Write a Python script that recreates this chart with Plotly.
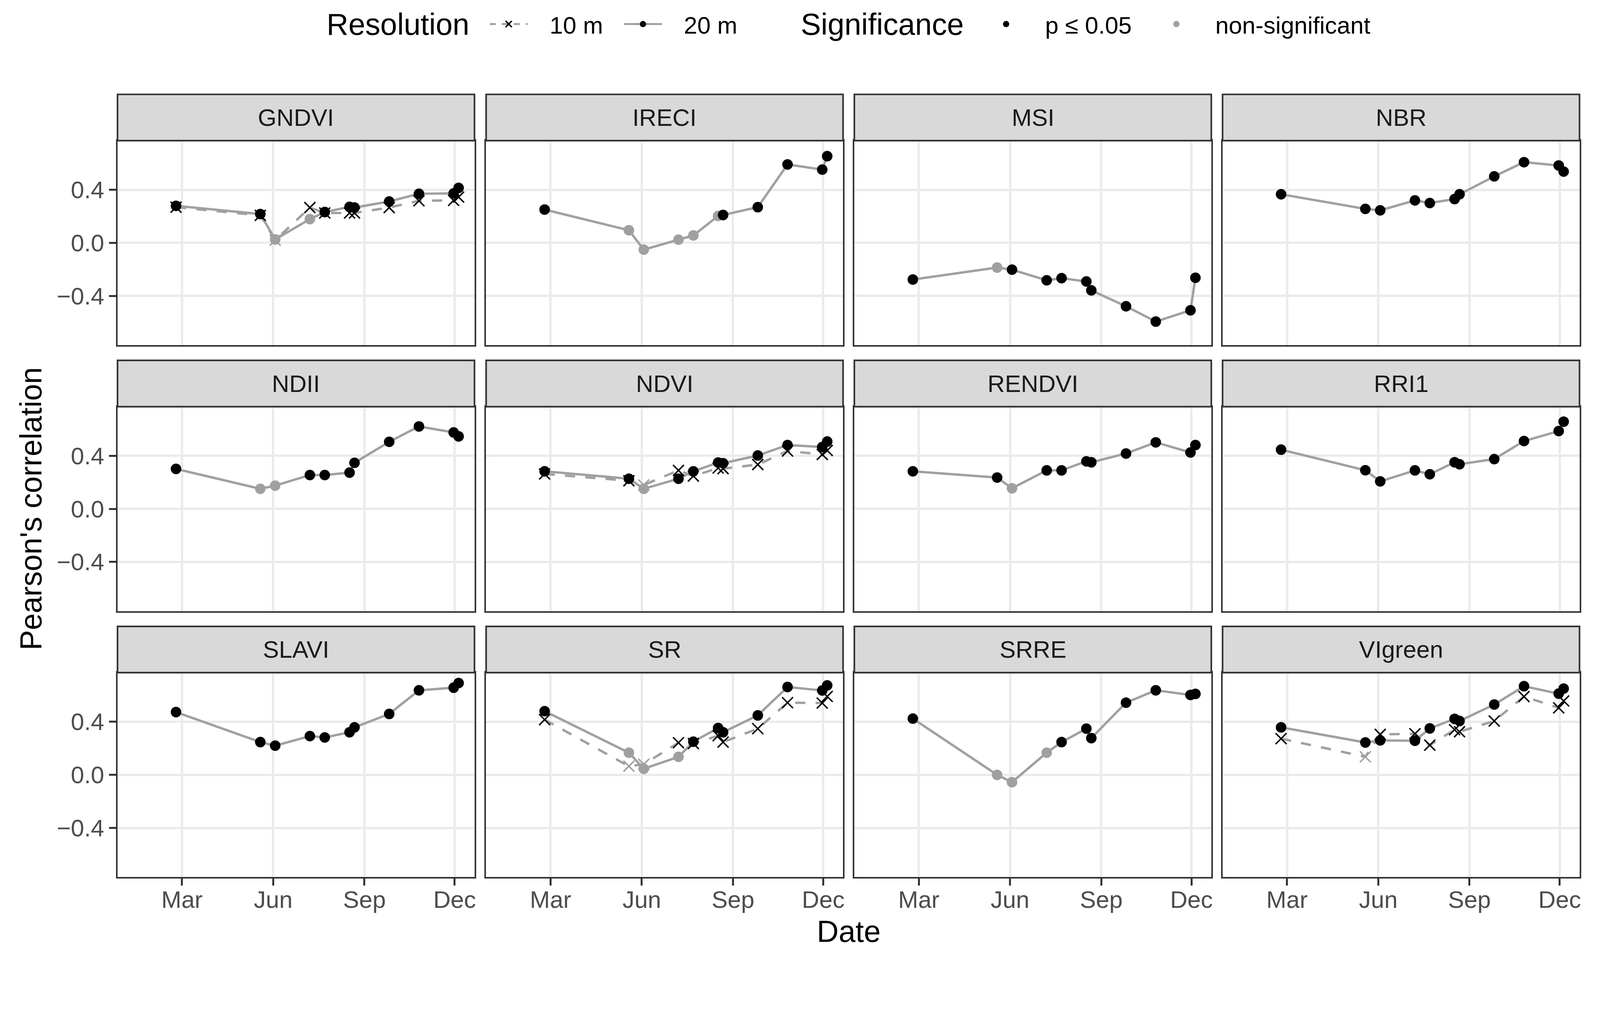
import plotly.graph_objects as go

# ---------------- data ----------------
dates = ["2018-02-23", "2018-05-19", "2018-06-03", "2018-07-08", "2018-07-23",
         "2018-08-17", "2018-08-22", "2018-09-26", "2018-10-26", "2018-11-30", "2018-12-05"]

indices = ["GNDVI", "IRECI", "MSI", "NBR", "NDII", "NDVI",
           "RENDVI", "RRI1", "SLAVI", "SR", "SRRE", "VIgreen"]

# 20 m correlations and significance (1 = p <= 0.05)
gndvi_20 = [0.279, 0.217, 0.026, 0.179, 0.232, 0.271, 0.266, 0.312, 0.370, 0.373, 0.414]
gndvi_20_sig = [1, 1, 0, 0, 1, 1, 1, 1, 1, 1, 1]
ireci_20 = [0.251, 0.095, -0.051, 0.024, 0.056, 0.203, 0.210, 0.269, 0.591, 0.552, 0.653]
ireci_20_sig = [1, 0, 0, 0, 0, 0, 1, 1, 1, 1, 1]
msi_20 = [-0.276, -0.186, -0.202, -0.282, -0.266, -0.291, -0.358, -0.478, -0.593, -0.508, -0.263]
msi_20_sig = [1, 0, 1, 1, 1, 1, 1, 1, 1, 1, 1]
nbr_20 = [0.366, 0.256, 0.245, 0.320, 0.300, 0.330, 0.366, 0.501, 0.608, 0.583, 0.537]
nbr_20_sig = [1, 1, 1, 1, 1, 1, 1, 1, 1, 1, 1]
ndii_20 = [0.301, 0.151, 0.175, 0.255, 0.255, 0.273, 0.347, 0.505, 0.621, 0.576, 0.546]
ndii_20_sig = [1, 0, 0, 1, 1, 1, 1, 1, 1, 1, 1]
ndvi_20 = [0.283, 0.227, 0.151, 0.227, 0.283, 0.349, 0.344, 0.402, 0.481, 0.466, 0.507]
ndvi_20_sig = [1, 1, 0, 1, 1, 1, 1, 1, 1, 1, 1]
rendvi_20 = [0.283, 0.236, 0.155, 0.290, 0.290, 0.358, 0.351, 0.417, 0.501, 0.425, 0.481]
rendvi_20_sig = [1, 1, 0, 1, 1, 1, 1, 1, 1, 1, 1]
rri1_20 = [0.446, 0.291, 0.207, 0.290, 0.261, 0.351, 0.336, 0.375, 0.511, 0.586, 0.657]
rri1_20_sig = [1, 1, 1, 1, 1, 1, 1, 1, 1, 1, 1]
slavi_20 = [0.473, 0.247, 0.220, 0.292, 0.282, 0.321, 0.358, 0.459, 0.637, 0.657, 0.692]
slavi_20_sig = [1, 1, 1, 1, 1, 1, 1, 1, 1, 1, 1]
sr_20 = [0.480, 0.167, 0.046, 0.136, 0.250, 0.353, 0.321, 0.448, 0.662, 0.636, 0.674]
sr_20_sig = [1, 0, 0, 0, 1, 1, 1, 1, 1, 1, 1]
srre_20 = [0.424, 0.000, -0.055, 0.167, 0.247, 0.348, 0.277, 0.544, 0.637, 0.602, 0.610]
srre_20_sig = [1, 0, 0, 0, 1, 1, 1, 1, 1, 1, 1]
vigreen_20 = [0.358, 0.244, 0.260, 0.257, 0.350, 0.422, 0.406, 0.530, 0.668, 0.612, 0.650]
vigreen_20_sig = [1, 1, 1, 1, 1, 1, 1, 1, 1, 1, 1]

# 10 m correlations (only for indices available at 10 m)
gndvi_10 = [0.269, 0.207, 0.020, 0.266, 0.225, 0.225, 0.225, 0.266, 0.317, 0.320, 0.345]
gndvi_10_sig = [1, 1, 0, 1, 1, 1, 1, 1, 1, 1, 1]
ndvi_10 = [0.263, 0.212, 0.180, 0.290, 0.247, 0.308, 0.303, 0.334, 0.436, 0.410, 0.440]
ndvi_10_sig = [1, 1, 0, 1, 1, 1, 1, 1, 1, 1, 1]
sr_10 = [0.416, 0.065, 0.080, 0.242, 0.236, 0.295, 0.247, 0.348, 0.544, 0.541, 0.591]
sr_10_sig = [1, 0, 0, 1, 1, 1, 1, 1, 1, 1, 1]
vigreen_10 = [0.273, 0.136, 0.305, 0.310, 0.224, 0.340, 0.325, 0.406, 0.590, 0.505, 0.557]
vigreen_10_sig = [1, 0, 1, 1, 1, 1, 1, 1, 1, 1, 1]

month_ticks = ["2018-03-01", "2018-06-01", "2018-09-01", "2018-12-01"]
month_labels = ["Mar", "Jun", "Sep", "Dec"]
y_ticks = [-0.4, 0.0, 0.4]
y_labels = ["\u22120.4", "0.0", "0.4"]

res20 = {"GNDVI": (gndvi_20, gndvi_20_sig), "IRECI": (ireci_20, ireci_20_sig),
         "MSI": (msi_20, msi_20_sig), "NBR": (nbr_20, nbr_20_sig),
         "NDII": (ndii_20, ndii_20_sig), "NDVI": (ndvi_20, ndvi_20_sig),
         "RENDVI": (rendvi_20, rendvi_20_sig), "RRI1": (rri1_20, rri1_20_sig),
         "SLAVI": (slavi_20, slavi_20_sig), "SR": (sr_20, sr_20_sig),
         "SRRE": (srre_20, srre_20_sig), "VIgreen": (vigreen_20, vigreen_20_sig)}
res10 = {"GNDVI": (gndvi_10, gndvi_10_sig), "NDVI": (ndvi_10, ndvi_10_sig),
         "SR": (sr_10, sr_10_sig), "VIgreen": (vigreen_10, vigreen_10_sig)}

# ---------------- geometry (target-screenshot pixels -> css px) ----------------
TW, TH = 4393, 2633
S = TW / 4096.0          # screenshot px per css px
VW, VH = 4096, round(TH / S)
MARGIN = 8               # default body margin (css px)
FW, FH = VW - 2 * MARGIN, VH - 2 * MARGIN


def px(v):
    """size given in screenshot px -> css px"""
    return v / S


def xd(t):
    return (t / S - MARGIN) / FW


def yd(t):
    return 1 - (t / S - MARGIN) / FH


FONT = "Liberation Sans, Arial, sans-serif"
BLACK = "#000000"
GREY = "#A0A0A0"
LINE_GREY = "#A0A0A0"
col_left = [323, 1336, 2348, 3360]
panel_w = 981
row_top = [386, 1116, 1846]
panel_h = 561
strip_h = 127
TXT = px(66)
TITLE = px(83)


def sigcol(s):
    return [BLACK if v == 1 else GREY for v in s]


fig = go.Figure()
layout = dict(
    width=FW, height=FH,
    margin=dict(l=0, r=0, t=0, b=0, pad=0),
    paper_bgcolor="white", plot_bgcolor="white",
    font=dict(family=FONT, size=TXT, color="#000000"),
    showlegend=True,
)
shapes = []
annotations = []

for i, name in enumerate(indices):
    r, c = divmod(i, 4)
    xa = "x" if i == 0 else f"x{i + 1}"
    ya = "y" if i == 0 else f"y{i + 1}"
    xkey = "xaxis" if i == 0 else f"xaxis{i + 1}"
    ykey = "yaxis" if i == 0 else f"yaxis{i + 1}"
    left = col_left[c]
    top = row_top[r]
    common = dict(
        ticklen=px(19), tickwidth=px(5), tickcolor="#333333",
        tickfont=dict(size=TXT, color="#4D4D4D", family=FONT),
        showgrid=True, gridcolor="#EBEBEB", gridwidth=px(6.5),
        showline=True, mirror=True, linecolor="#333333", linewidth=px(4.5),
        zeroline=False, fixedrange=True,
    )
    layout[xkey] = dict(
        domain=[xd(left), xd(left + panel_w)], anchor=ya, type="date",
        range=["2017-12-26", "2018-12-21"],
        tickmode="array", tickvals=month_ticks, ticktext=month_labels,
        showticklabels=(r == 2), ticks="outside" if r == 2 else "",
        ticklabelstandoff=-17,
        **common,
    )
    layout[ykey] = dict(
        domain=[yd(top + panel_h), yd(top)], anchor=xa,
        range=[-0.77, 0.77],
        tickmode="array", tickvals=y_ticks, ticktext=y_labels,
        showticklabels=(c == 0), ticks="outside" if c == 0 else "",
        **common,
    )
    # facet strip
    shapes.append(dict(type="rect", xref="paper", yref="paper",
                       x0=xd(left), x1=xd(left + panel_w),
                       y0=yd(top), y1=yd(top - strip_h),
                       fillcolor="#D9D9D9", line=dict(color="#333333", width=px(4.5)),
                       layer="above"))
    annotations.append(dict(text=name, xref="paper", yref="paper",
                            x=xd(left + panel_w / 2), y=yd(top - strip_h / 2),
                            xanchor="center", yanchor="middle", showarrow=False,
                            font=dict(size=TXT, color="#1A1A1A", family=FONT)))

    v20, s20 = res20[name]
    # lines first (under all points)
    if name in res10:
        v10, s10 = res10[name]
        fig.add_trace(go.Scatter(x=dates, y=v10, mode="lines", xaxis=xa, yaxis=ya,
                                 line=dict(color=LINE_GREY, width=px(6.5),
                                           dash=f"{px(28):.1f}px,{px(28):.1f}px"),
                                 showlegend=False, hoverinfo="skip"))
    fig.add_trace(go.Scatter(x=dates, y=v20, mode="lines", xaxis=xa, yaxis=ya,
                             line=dict(color=LINE_GREY, width=px(6.5)),
                             showlegend=False, hoverinfo="skip"))
    if name in res10:
        v10, s10 = res10[name]
        fig.add_trace(go.Scatter(x=dates, y=v10, mode="markers", xaxis=xa, yaxis=ya,
                                 marker=dict(symbol="x-thin", size=px(30),
                                             line=dict(color=sigcol(s10), width=px(4))),
                                 showlegend=False))
    fig.add_trace(go.Scatter(x=dates, y=v20, mode="markers", xaxis=xa, yaxis=ya,
                             marker=dict(symbol="circle", size=px(29), color=sigcol(s20),
                                         line=dict(width=0)),
                             showlegend=False))

# ---------------- legends (one entry per legend for exact placement) ----------------
NB = "\u00a0"
res_w = px(104)
sig_w = 2 * px(107) - 10
fig.add_trace(go.Scatter(x=[None], y=[None], mode="lines+markers", name=NB * 3 + "10 m",
                         legend="legend",
                         line=dict(color=LINE_GREY, width=px(5.5), dash="dash"),
                         marker=dict(symbol="x-thin", size=16, line=dict(color=BLACK, width=px(4)))))
fig.add_trace(go.Scatter(x=[None], y=[None], mode="lines+markers", name=NB * 3 + "20 m",
                         legend="legend2",
                         line=dict(color=LINE_GREY, width=px(5.5)),
                         marker=dict(symbol="circle", size=16, color=BLACK)))
fig.add_trace(go.Scatter(x=[None], y=[None], mode="markers", name="p \u2264 0.05",
                         legend="legend3",
                         marker=dict(symbol="circle", size=16, color=BLACK)))
fig.add_trace(go.Scatter(x=[None], y=[None], mode="markers", name="non-significant",
                         legend="legend4",
                         marker=dict(symbol="circle", size=16, color=GREY)))

LEG_Y = yd(66)


def leg(x_t, w):
    return dict(orientation="h", x=xd(x_t), xanchor="left", y=LEG_Y, yanchor="middle",
                font=dict(size=TXT, family=FONT, color="#000000"), itemwidth=w,
                bgcolor="rgba(0,0,0,0)", borderwidth=0, itemsizing="trace")


layout["legend"] = leg(1346 - 5 * S, res_w)
layout["legend2"] = leg(1715 - 5 * S, res_w)
layout["legend3"] = leg(2765 - 107, sig_w)
layout["legend4"] = leg(3233 - 107, sig_w)

annotations.append(dict(text="Resolution", xref="paper", yref="paper",
                        x=xd(895), y=LEG_Y, xanchor="left", yanchor="middle",
                        showarrow=False, font=dict(size=TITLE, color="#000000", family=FONT)))
annotations.append(dict(text="Significance", xref="paper", yref="paper",
                        x=xd(2199), y=LEG_Y, xanchor="left", yanchor="middle",
                        showarrow=False, font=dict(size=TITLE, color="#000000", family=FONT)))

# ---------------- axis titles ----------------
annotations.append(dict(text="Date", xref="paper", yref="paper",
                        x=xd((col_left[0] + col_left[3] + panel_w) / 2), y=yd(2556),
                        xanchor="center", yanchor="middle", showarrow=False,
                        font=dict(size=TITLE, color="#000000", family=FONT)))
annotations.append(dict(text="Pearson's correlation", xref="paper", yref="paper",
                        x=xd(84), y=yd(1396),
                        xanchor="center", yanchor="middle", showarrow=False, textangle=-90,
                        font=dict(size=TITLE, color="#000000", family=FONT)))

layout["shapes"] = shapes
layout["annotations"] = annotations
fig.update_layout(**layout)
fig.write_html("out.html")
